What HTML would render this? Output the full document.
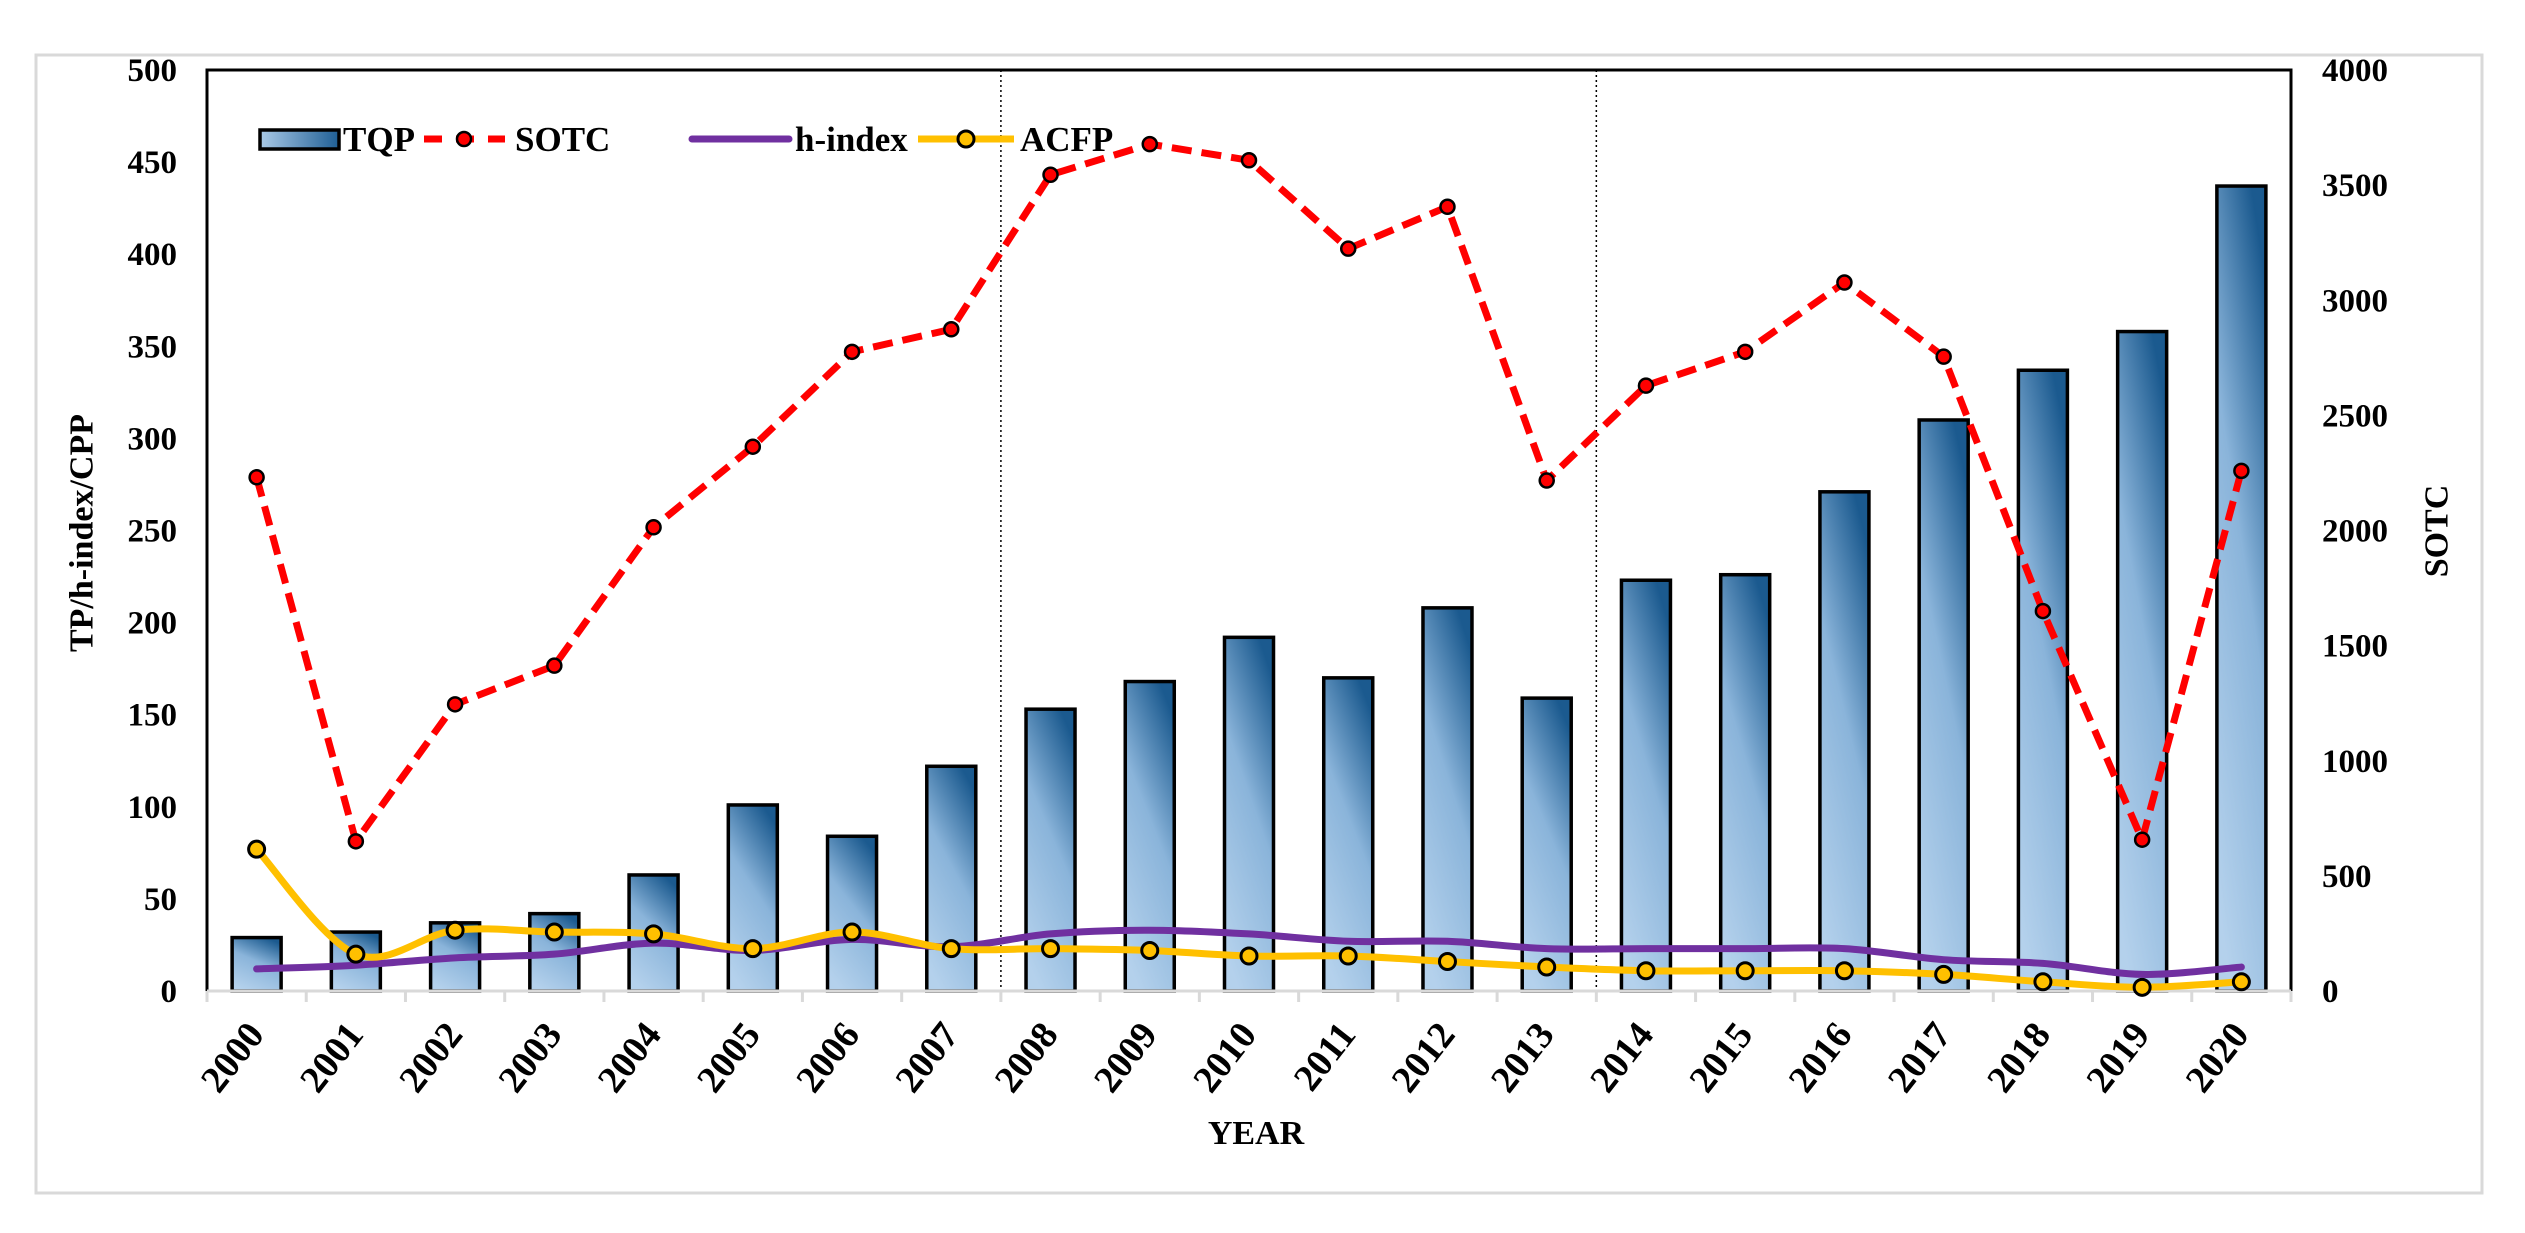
<!DOCTYPE html>
<html><head><meta charset="utf-8"><style>
body{margin:0;background:#fff;}
svg{display:block;font-family:"Liberation Serif",serif;font-weight:bold;}
</style></head><body>
<svg id="chart" width="2525" height="1233" viewBox="0 0 2525 1233">
<defs>
<linearGradient id="barGrad" x1="0.3" y1="1" x2="0.7" y2="0">
<stop offset="0" stop-color="#b4d1ec"/><stop offset="0.55" stop-color="#8ab4da"/><stop offset="1" stop-color="#1b5a8f"/>
</linearGradient>
<linearGradient id="legGrad" x1="0" y1="0" x2="1" y2="0">
<stop offset="0" stop-color="#a9c9e6"/><stop offset="1" stop-color="#1f5f95"/>
</linearGradient>
</defs>
<rect x="36" y="55" width="2446" height="1138" fill="none" stroke="#d9d9d9" stroke-width="3"/>
<g id="plot"></g>
</svg>
<script>
const years=["2000","2001","2002","2003","2004","2005","2006","2007","2008","2009","2010","2011","2012","2013","2014","2015","2016","2017","2018","2019","2020"];
const tqp=[29,32,37,42,63,101,84,122,153,168,192,170,208,159,223,226,271,310,337,358,437];
const sotc=[2231,650,1245,1413,2014,2364,2776,2874,3545,3678,3608,3224,3406,2217,2629,2776,3077,2755,1650,657,2259];
const hindex=[12,14,18,20,26,22,28,24,31,33,31,27,27,23,23,23,23,17,15,9,13];
const acfp=[77,20,33,32,31,23,32,23,23,22,19,19,16,13,11,11,11,9,5,2,5];
const leftTicks=[0,50,100,150,200,250,300,350,400,450,500];
const rightTicks=[0,500,1000,1500,2000,2500,3000,3500,4000];
const dividers=[8,14];

const NS="http://www.w3.org/2000/svg";
const L=207,R=2291,T=70,B=991;
const bw=(R-L)/years.length;
const xc=i=>L+(i+0.5)*bw;
const yl=v=>B-(v/500)*(B-T);
const yr=v=>B-(v/4000)*(B-T);
const g=document.getElementById('plot');
function mk(tag,attrs,parent){const e=document.createElementNS(NS,tag);for(const k in attrs)e.setAttribute(k,attrs[k]);(parent||g).appendChild(e);return e;}

tqp.forEach((v,i)=>{
 const r=mk('rect',{x:xc(i)-24.5,y:yl(v),width:49,height:B-yl(v),fill:'url(#barGrad)',stroke:'#000','stroke-width':3.5});
 
 
});
dividers.forEach(d=>{
 const l=mk('line',{x1:L+d*bw,x2:L+d*bw,y1:T,y2:B,stroke:'#000','stroke-width':1.5,'stroke-dasharray':'2,3'});
 
 
});
const fr=mk('path',{d:`M${L},${B} L${L},${T} L${R},${T} L${R},${B}`,fill:'none',stroke:'#000','stroke-width':3});


const xa=mk('line',{x1:L,x2:R,y1:B,y2:B,stroke:'#d9d9d9','stroke-width':3});


for(let i=0;i<=years.length;i++){
 const t=mk('line',{x1:L+i*bw,x2:L+i*bw,y1:B,y2:B+11,stroke:'#d9d9d9','stroke-width':3});
 
 
}
function smooth(pts){
 let d=`M${pts[0][0]},${pts[0][1]}`;
 for(let i=0;i<pts.length-1;i++){
  const p0=pts[i-1]||pts[i],p1=pts[i],p2=pts[i+1],p3=pts[i+2]||p2;
  const c1=[p1[0]+(p2[0]-p0[0])/6,p1[1]+(p2[1]-p0[1])/6];
  const c2=[p2[0]-(p3[0]-p1[0])/6,p2[1]-(p3[1]-p1[1])/6];
  d+=` C${c1[0]},${c1[1]} ${c2[0]},${c2[1]} ${p2[0]},${p2[1]}`;
 }
 return d;
}
const hl=mk('path',{d:smooth(hindex.map((v,i)=>[xc(i),yl(v)])),fill:'none',stroke:'#7030a0','stroke-width':7,'stroke-linecap':'round'});


const al=mk('path',{d:smooth(acfp.map((v,i)=>[xc(i),yl(v)])),fill:'none',stroke:'#ffc000','stroke-width':7,'stroke-linecap':'round'});


acfp.forEach((v,i)=>{
 const c=mk('circle',{cx:xc(i),cy:yl(v),r:8,fill:'#ffc000',stroke:'#000','stroke-width':3});
 
 
});
const sl=mk('polyline',{points:sotc.map((v,i)=>xc(i)+','+yr(v)).join(' '),fill:'none',stroke:'#ff0000','stroke-width':7,'stroke-dasharray':'20,10'});


sotc.forEach((v,i)=>{
 const c=mk('circle',{cx:xc(i),cy:yr(v),r:7,fill:'#ff0000',stroke:'#000','stroke-width':2.5});
 
 
});
leftTicks.forEach(v=>{
 const t=mk('text',{x:177,y:yl(v)+11,'text-anchor':'end','font-size':33});
 t.textContent=v;
 
 
});
rightTicks.forEach(v=>{
 const t=mk('text',{x:2322,y:yr(v)+11,'text-anchor':'start','font-size':33});
 t.textContent=v;
 
 
});
years.forEach((y,i)=>{
 const x=xc(i)+9,yy=B+44;
 const t=mk('text',{x:x,y:yy,'text-anchor':'end','font-size':38,transform:`rotate(-52 ${x} ${yy})`});
 t.textContent=y;
 
 
});
const yt=mk('text',{x:82,y:533,'text-anchor':'middle','font-size':34,transform:'rotate(-90 82 533)','dominant-baseline':'central'});
yt.textContent='TP/h-index/CPP';


const yt2=mk('text',{x:2437,y:531,'text-anchor':'middle','font-size':34,transform:'rotate(-90 2437 531)','dominant-baseline':'central'});
yt2.textContent='SOTC';


const xt=mk('text',{x:1256,y:1144,'text-anchor':'middle','font-size':34});
xt.textContent='YEAR';


const lg=mk('g',{});


mk('rect',{x:260,y:130,width:79,height:19,fill:'url(#legGrad)',stroke:'#000','stroke-width':3.5},lg);
mk('line',{x1:423,x2:505,y1:139,y2:139,stroke:'#ff0000','stroke-width':7,'stroke-dasharray':'18,14','stroke-dashoffset':'-1'},lg);
mk('circle',{cx:464,cy:139,r:7,fill:'#ff0000',stroke:'#000','stroke-width':2.5},lg);
mk('line',{x1:692,x2:789,y1:139,y2:139,stroke:'#7030a0','stroke-width':7,'stroke-linecap':'round'},lg);
mk('line',{x1:918,x2:1014,y1:139,y2:139,stroke:'#ffc000','stroke-width':7},lg);
mk('circle',{cx:966,cy:139,r:8,fill:'#ffc000',stroke:'#000','stroke-width':3},lg);
[['TQP',343,'legend-entry-tqp'],['SOTC',515,'legend-entry-sotc'],['h-index',795,'legend-entry-h-index'],['ACFP',1020,'legend-entry-acfp']].forEach(a=>{
 const t=mk('text',{x:a[1],y:151,'font-size':35},lg);
 t.textContent=a[0];
 
 
});
</script>
</body></html>
